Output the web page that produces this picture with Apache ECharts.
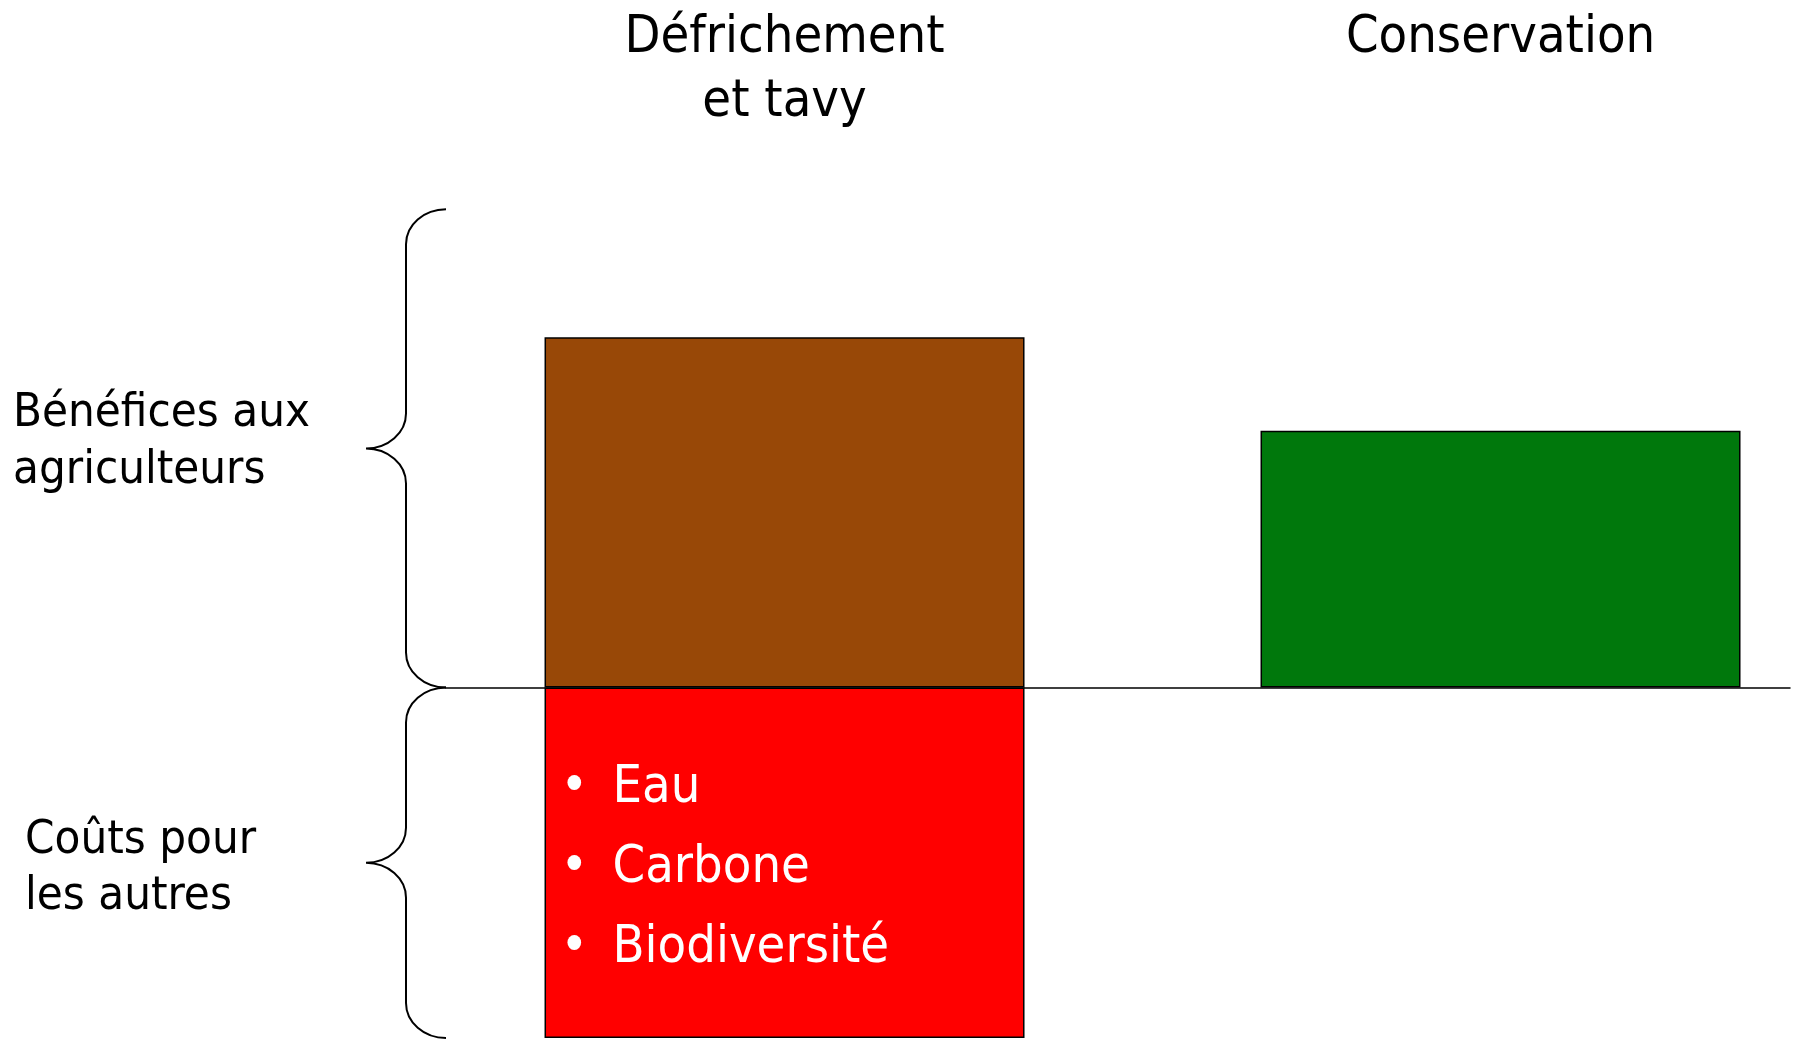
<!DOCTYPE html>
<html>
<head>
<meta charset="utf-8">
<title>Défrichement et tavy / Conservation</title>
<script src="https://cdn.jsdelivr.net/npm/echarts@6/dist/echarts.min.js"></script>
<style>
  html, body { margin: 0; padding: 0; background: #fff; }
  #chart { width: 1799px; height: 1039px; }
</style>
</head>
<body>
<div id="chart"></div>
<script>
// données du schéma
const categories = ['Défrichement\net tavy', 'Conservation'];
const benefits = [100, 73.3];
const costs = [-100, null];
const costItems = ['Eau', 'Carbone', 'Biodiversité'];
const braceLabels = ['Bénéfices aux\nagriculteurs', 'Coûts pour\nles autres'];
const braceSpans = [[136.5, 0], [0, -100]];

const barColors = ['#984807', '#00780C'];
const costColor = '#FF0000';
const FONT = "'DejaVu Sans Condensed', 'DejaVu Sans', sans-serif";

// axe x en valeurs: catégorie i au point x = i
const xMin = -0.4728, xMax = 1.4043;

// décalages du texte des accolades (px par rapport à la pointe)
const braceText = [
  { dx: -353, dy: -6.5, lineHeight: 57 },
  { dx: -341, dy: 6.5, lineHeight: 56 }
];

const chart = echarts.init(document.getElementById('chart'));

function renderBrace(params, api) {
  const x = api.value(0);
  const p1 = api.coord([x, api.value(1)]);
  const p2 = api.coord([x, api.value(2)]);
  const i = api.value(3);
  const xEnd = p1[0], xMid = xEnd - 40, xTip = xEnd - 80;
  const top = p1[1], bot = p2[1], mid = (top + bot) / 2;
  const rx = 40, ry = 35, k = 0.5523;
  const path =
    'M' + xEnd + ',' + top +
    ' C' + (xEnd - rx * k) + ',' + top + ' ' + xMid + ',' + (top + ry - ry * k) + ' ' + xMid + ',' + (top + ry) +
    ' L' + xMid + ',' + (mid - ry) +
    ' C' + xMid + ',' + (mid - ry + ry * k) + ' ' + (xTip + rx * k) + ',' + mid + ' ' + xTip + ',' + mid +
    ' C' + (xTip + rx * k) + ',' + mid + ' ' + xMid + ',' + (mid + ry - ry * k) + ' ' + xMid + ',' + (mid + ry) +
    ' L' + xMid + ',' + (bot - ry) +
    ' C' + xMid + ',' + (bot - ry + ry * k) + ' ' + (xEnd - rx * k) + ',' + bot + ' ' + xEnd + ',' + bot;
  const t = braceText[i];
  return {
    type: 'group',
    children: [
      {
        type: 'path',
        shape: { pathData: path },
        style: { fill: 'none', stroke: '#000', lineWidth: 2 }
      },
      {
        type: 'text',
        x: xTip + t.dx,
        y: mid + t.dy,
        style: {
          text: braceLabels[i],
          fill: '#000',
          fontSize: 47,
          fontFamily: FONT,
          lineHeight: t.lineHeight,
          align: 'left',
          verticalAlign: 'middle'
        }
      }
    ]
  };
}

const option = {
  animation: false,
  backgroundColor: '#fff',
  grid: { left: 446, right: 9, top: 207.5, bottom: 1, containLabel: false, outerBoundsMode: 'none' },
  xAxis: [
    {
      type: 'value',
      min: xMin,
      max: xMax,
      position: 'bottom',
      axisLine: { show: true, onZero: true, lineStyle: { color: '#000', width: 1.5 } },
      axisTick: { show: false },
      axisLabel: { show: false },
      splitLine: { show: false }
    },
    {
      type: 'value',
      min: xMin,
      max: xMax,
      position: 'top',
      axisLine: { show: false, onZero: false },
      axisTick: { show: false },
      splitLine: { show: false },
      axisLabel: {
        show: true,
        customValues: categories.map((c, i) => i),
        formatter: function (v) { return categories[Math.round(v)]; },
        verticalAlign: 'top',
        margin: 201,
        color: '#000',
        fontSize: 52,
        lineHeight: 64,
        fontFamily: FONT
      }
    }
  ],
  yAxis: {
    type: 'value',
    min: -100,
    max: 137,
    show: false,
    splitLine: { show: false }
  },
  series: [
    {
      name: 'Bénéfices',
      type: 'bar',
      xAxisIndex: 0,
      barWidth: 480,
      barGap: '-100%',
      data: benefits.map((v, i) => [i, v]),
      itemStyle: {
        color: function (p) { return barColors[p.dataIndex]; },
        borderColor: '#000',
        borderWidth: 1.5
      }
    },
    {
      name: 'Coûts',
      type: 'bar',
      xAxisIndex: 0,
      barWidth: 480,
      barGap: '-100%',
      data: costs.map((v, i) => [i, v]),
      itemStyle: { color: costColor, borderColor: '#000', borderWidth: 1.5 },
      label: {
        show: true,
        position: [16, 61],
        formatter: function () {
          return costItems.map(t => '{dot|•}{txt|' + t + '}').join('\n');
        },
        rich: {
          dot: { width: 52, color: '#fff', fontSize: 52, lineHeight: 80, fontFamily: FONT },
          txt: { color: '#fff', fontSize: 52, lineHeight: 80, fontFamily: FONT }
        }
      }
    },
    {
      type: 'custom',
      xAxisIndex: 0,
      clip: false,
      silent: true,
      renderItem: renderBrace,
      encode: { x: 0, y: [1, 2] },
      data: braceSpans.map((s, i) => [xMin, s[0], s[1], i])
    }
  ]
};

chart.setOption(option);
</script>
</body>
</html>
